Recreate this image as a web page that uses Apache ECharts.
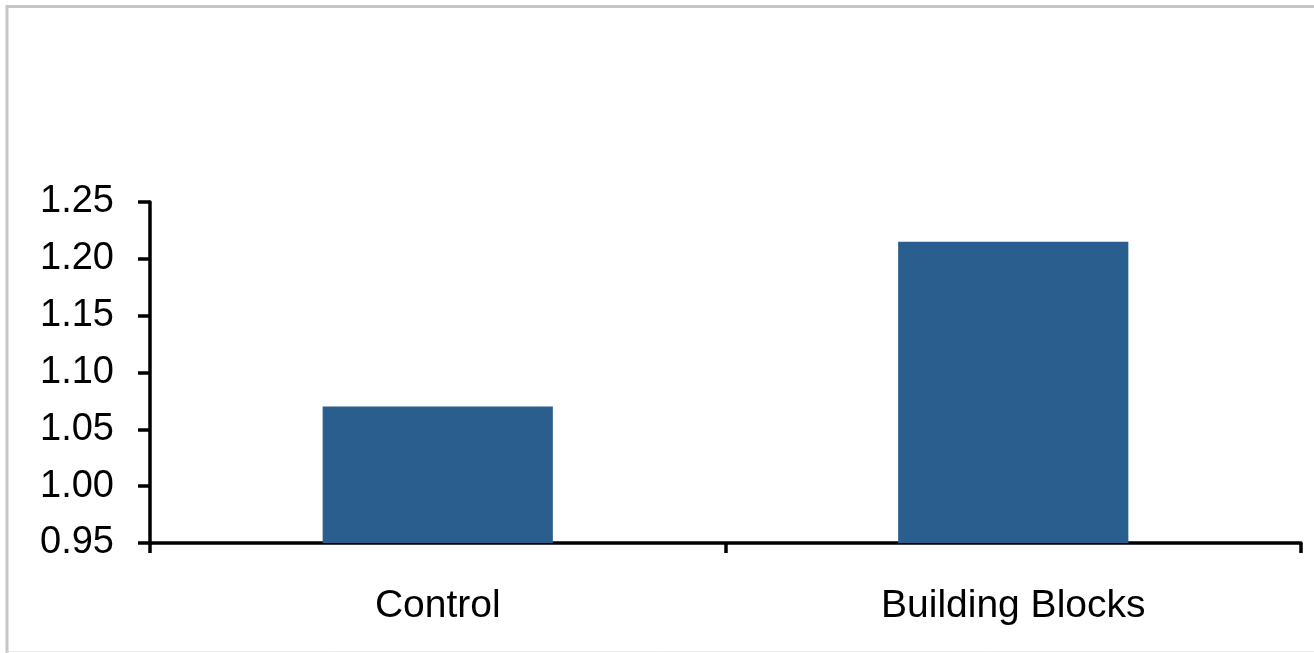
<!DOCTYPE html>
<html>
<head>
<meta charset="utf-8">
<script src="https://cdn.jsdelivr.net/npm/echarts@6/dist/echarts.min.js"></script>
<style>
html,body{margin:0;padding:0;background:#fff;}
#chart{width:1314px;height:653px;}
</style>
</head>
<body>
<div id="chart"></div>
<script>
const categories = ['Control', 'Building Blocks'];
const values = [1.07, 1.215];
const yTicks = ['0.95', '1.00', '1.05', '1.10', '1.15', '1.20', '1.25'];

const chart = echarts.init(document.getElementById('chart'), null, {renderer: 'canvas'});
const font = '"Liberation Sans", Arial, sans-serif';
chart.setOption({
  animation: false,
  backgroundColor: '#fff',
  graphic: [
    {type: 'polyline', shape: {points: [[7, 653], [7, 6.5], [1314, 6.5]]},
     style: {stroke: '#c6c6c6', lineWidth: 3, fill: null}, silent: true},
    {type: 'line', shape: {x1: 7, y1: 651.5, x2: 1314, y2: 651.5},
     style: {stroke: '#ececec', lineWidth: 1}, silent: true}
  ],
  grid: {left: 150, right: 13, top: 202, bottom: 110, containLabel: false},
  xAxis: {
    type: 'category',
    data: categories,
    boundaryGap: true,
    axisLine: {show: true, lineStyle: {color: '#000', width: 3.5}},
    axisTick: {show: true, inside: false, length: 10, lineStyle: {color: '#000', width: 3.5}},
    axisLabel: {color: '#000', fontFamily: font, fontSize: 39, margin: 44}
  },
  yAxis: {
    type: 'value',
    min: 0.95,
    max: 1.25,
    interval: 0.05,
    splitLine: {show: false},
    axisLine: {show: true, lineStyle: {color: '#000', width: 3.5}},
    axisTick: {show: true, inside: false, length: 12, lineStyle: {color: '#000', width: 3.5}},
    axisLabel: {
      color: '#000', fontFamily: font, fontSize: 38, margin: 36,
      formatter: function (v) {
        const s = v.toFixed(2);
        return yTicks.indexOf(s) >= 0 ? s : '';
      }
    }
  },
  series: [{
    type: 'bar',
    data: values,
    barWidth: '40%',
    itemStyle: {color: '#2A5E8E'}
  }]
});
</script>
</body>
</html>
